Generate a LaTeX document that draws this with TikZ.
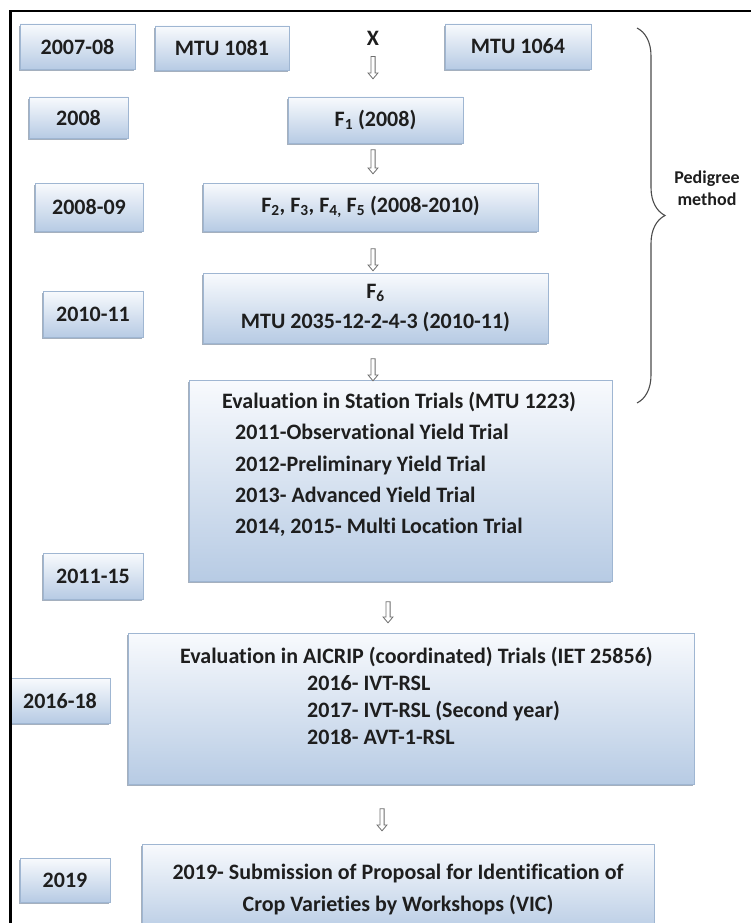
\documentclass[tikz,border=0pt]{standalone}
\usepackage{fontspec}
\setmainfont[Ligatures={NoCommon}]{Carlito}
\usetikzlibrary{shadows,shapes.arrows,decorations.pathreplacing,calc}
\definecolor{boxtop}{HTML}{F8FAFD}
\definecolor{boxbot}{HTML}{B7CBE4}
\definecolor{boxline}{HTML}{9FB6D2}
\definecolor{txtc}{HTML}{1E1E1E}
\definecolor{arrgray}{HTML}{6E6E6E}
\definecolor{shadowc}{HTML}{7F8FA3}
\begin{document}
\begin{tikzpicture}[x=1pt,y=-1pt,
  box/.style={draw=boxline, line width=0.8pt, top color=boxtop, bottom color=boxbot,
    drop shadow={shadow xshift=-1.2pt, shadow yshift=-2.2pt, fill=shadowc, opacity=0.7},
    inner sep=0pt, text=txtc, font=\bfseries\fontsize{22}{30}\selectfont, align=center},
  txt/.style={inner sep=0pt, text=txtc, font=\bfseries\fontsize{22}{30}\selectfont},
  hollowto/.style={to path={
    let \p1=(\tikztostart), \p2=(\tikztotarget), \n1={veclen(\x2-\x1,\y2-\y1)} in
    node[single arrow, draw=arrgray, fill=white, line width=0.8pt, minimum height=\n1,
      minimum width=0pt, inner sep=1.7pt, single arrow head extend=2.8pt,
      single arrow head indent=0pt, single arrow tip angle=80,
      shape border rotate=270, anchor=center]
      at ($(\tikztostart)!0.5!(\tikztotarget)$) {}}},
  bracestyle/.style={draw=black!70, line width=1.1pt, decorate,
    decoration={brace, amplitude=28pt}}
]
\useasboundingbox (0,0) rectangle (751,923);

% left column of years
\node[box, minimum width=115, minimum height=45] (y0708) at (77.5,46.5) {2007-08};
\node[box, minimum width=99,  minimum height=41] (y2008) at (78.5,117.5) {2008};
\node[box, minimum width=108, minimum height=48] (y0809) at (89,207) {2008-09};
\node[box, minimum width=100, minimum height=46] (y1011) at (93,314) {2010-11};
\node[box, minimum width=100, minimum height=46] (y1115) at (93,576) {2011-15};
\node[box, minimum width=100, minimum height=45] (y1618) at (60,700.5) {2016-18};
\node[box, minimum width=90,  minimum height=44] (y2019) at (65,880) {2019};

% parents
\node[box, minimum width=134, minimum height=44] (m1081) at (222,48) {MTU 1081};
\node[box, minimum width=146, minimum height=45] (m1064) at (518,46.5) {MTU 1064};
\node[txt, minimum height=16] (xn) at (373,38) {X};

% main chain
\node[box, minimum width=175, minimum height=46] (f1) at (375.5,120) {F\textsubscript{1} (2008)};
\node[box, minimum width=335, minimum height=48] (f25) at (370.5,207)
  {F\textsubscript{2}, F\textsubscript{3}, F\textsubscript{4,} F\textsubscript{5} (2008-2010)};
\node[box, minimum width=345, minimum height=70] (f6) at (375.5,308)
  {F\textsubscript{6}\\MTU 2035-12-2-4-3 (2010-11)};
\node[box, minimum width=423, minimum height=201] (st) at (400.5,480.5) {};
\node[txt, anchor=north west, align=left, font=\bfseries\fontsize{22}{31.25}\selectfont] (sttext) at (222,392)
  {Evaluation in Station Trials (MTU 1223)\\
   \hspace*{13pt}2011-Observational Yield Trial\\
   \hspace*{13pt}2012-Preliminary Yield Trial\\
   \hspace*{13pt}2013- Advanced Yield Trial\\
   \hspace*{13pt}2014, 2015- Multi Location Trial};
\node[box, minimum width=566, minimum height=151] (aic) at (411,708.5) {};
\node[txt, anchor=north west, align=left, font=\bfseries\fontsize{22}{27}\selectfont] (aictext) at (180,647)
  {Evaluation in AICRIP (coordinated) Trials (IET 25856)\\
   \hspace*{127pt}2016- IVT-RSL\\
   \hspace*{127pt}2017- IVT-RSL (Second year)\\
   \hspace*{127pt}2018- AVT-1-RSL};
\node[box, minimum width=512, minimum height=91] (sub) at (398,889.5) {};
\node[txt, anchor=north, align=center, font=\bfseries\fontsize{22}{31.5}\selectfont] (subtext) at (398,864)
  {2019- Submission of Proposal for Identification of\\Crop Varieties by Workshops (VIC)};

% hollow block arrows
\path[hollowto] ([yshift=-9pt]xn.south) to ([yshift=19pt]xn.south |- f1.north);
\path[hollowto] ([xshift=-2.5pt,yshift=-5pt]f1.south) to ([xshift=-2.5pt,yshift=10pt]f1.south |- f25.north);
\path[hollowto] ([xshift=2.5pt,yshift=-16pt]f25.south) to ([xshift=2.5pt,yshift=3pt]f25.south |- f6.north);
\path[hollowto] ([xshift=-2.5pt,yshift=-14pt]f6.south) to ([xshift=-2.5pt]f6.south |- st.north);
\path[hollowto] ([xshift=-12.5pt,yshift=-19pt]st.south) to ([xshift=-12.5pt,yshift=11pt]st.south |- aic.north);
\path[hollowto] ([xshift=-29pt,yshift=-23pt]aic.south) to ([xshift=-29pt,yshift=14pt]aic.south |- sub.north);

% brace and label
\coordinate (bt) at (637,28);
\coordinate (bb) at (637,403);
\draw[bracestyle] (bt) -- (bb);
\node[txt, align=center, font=\bfseries\fontsize{18}{22}\selectfont] (ped) at (707,188) {Pedigree\\method};

% frame
\draw[black, line width=2.2pt] (10.5,923) -- (10.5,11) -- (751,11);
\end{tikzpicture}
\end{document}
